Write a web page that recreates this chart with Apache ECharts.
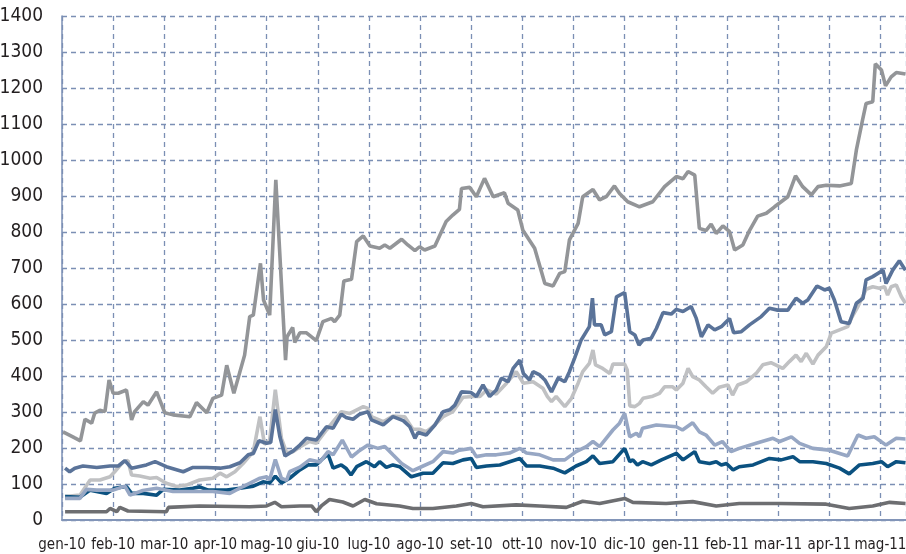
<!DOCTYPE html>
<html>
<head>
<meta charset="utf-8">
<script src="https://cdn.jsdelivr.net/npm/echarts@6/dist/echarts.min.js"></script>
<style>
  html, body { margin: 0; padding: 0; background: #fff; }
  #chart { width: 906px; height: 554px; }
</style>
</head>
<body>
<div id="chart"></div>
<script>
// x = months since gen-10 (0 = gen-10, 1 = feb-10, ...)
const monthLabels = ['gen-10', 'feb-10', 'mar-10', 'apr-10', 'mag-10', 'giu-10', 'lug-10', 'ago-10',
  'set-10', 'ott-10', 'nov-10', 'dic-10', 'gen-11', 'feb-11', 'mar-11', 'apr-11', 'mag-11'];

const yTicks = { min: 0, max: 1400, step: 100 };

// grigio medio (serie più alta)
const serieGrigio = [
  [0.02, 245], [0.25, 228], [0.36, 220], [0.45, 280], [0.58, 269], [0.64, 297], [0.74, 305], [0.84, 301],
  [0.92, 389], [1.00, 352], [1.10, 352], [1.26, 361], [1.36, 278], [1.42, 301], [1.59, 329], [1.68, 319],
  [1.85, 356], [2.01, 298], [2.17, 292], [2.50, 287], [2.63, 326], [2.83, 298], [2.95, 338], [3.12, 347],
  [3.22, 430], [3.36, 352], [3.57, 458], [3.67, 565], [3.74, 569], [3.88, 713], [3.94, 611], [4.06, 569],
  [4.18, 945], [4.37, 444], [4.40, 509], [4.51, 535], [4.55, 493], [4.65, 520], [4.78, 520], [4.97, 498],
  [5.10, 551], [5.27, 560], [5.33, 551], [5.43, 569], [5.51, 664], [5.66, 669], [5.76, 773], [5.89, 789],
  [6.02, 761], [6.21, 755], [6.31, 764], [6.41, 755], [6.64, 780], [6.76, 764], [6.90, 748], [6.99, 759],
  [7.09, 750], [7.29, 761], [7.51, 829], [7.64, 847], [7.77, 863], [7.81, 921], [7.97, 924], [8.10, 898],
  [8.26, 949], [8.43, 898], [8.65, 909], [8.72, 880], [8.91, 861], [9.01, 805], [9.24, 755], [9.44, 657],
  [9.60, 650], [9.73, 685], [9.83, 690], [9.92, 778], [10.09, 824], [10.18, 898], [10.38, 918], [10.51, 889],
  [10.64, 898], [10.80, 928], [10.90, 907], [11.06, 884], [11.29, 870], [11.55, 884], [11.78, 926], [12.01, 954],
  [12.14, 948], [12.24, 968], [12.37, 958], [12.46, 810], [12.59, 804], [12.69, 822], [12.79, 796], [12.92, 817],
  [13.05, 801], [13.15, 750], [13.31, 764], [13.44, 804], [13.60, 844], [13.77, 852], [13.93, 870], [14.19, 898],
  [14.34, 956], [14.48, 926], [14.65, 903], [14.78, 926], [14.94, 930], [15.20, 928], [15.43, 935], [15.53, 1028],
  [15.65, 1111], [15.72, 1157], [15.85, 1162], [15.90, 1267], [16.02, 1250], [16.10, 1206], [16.21, 1231],
  [16.31, 1243], [16.49, 1239]
];

// blu acciaio
const serieBluAcciaio = [
  [0.06, 144], [0.15, 134], [0.25, 144], [0.41, 150], [0.68, 146], [0.94, 150], [1.10, 150], [1.23, 165],
  [1.36, 144], [1.65, 153], [1.82, 162], [2.04, 148], [2.37, 134], [2.56, 146], [2.83, 146], [3.09, 144],
  [3.28, 148], [3.48, 159], [3.64, 181], [3.74, 185], [3.85, 220], [4.00, 213], [4.08, 215], [4.17, 307],
  [4.26, 231], [4.36, 178], [4.52, 192], [4.65, 208], [4.78, 227], [4.97, 222], [5.17, 259], [5.30, 255],
  [5.46, 294], [5.55, 285], [5.69, 280], [5.82, 294], [5.98, 301], [6.05, 278], [6.28, 264], [6.47, 287],
  [6.67, 276], [6.80, 259], [6.90, 227], [6.96, 243], [7.12, 236], [7.29, 264], [7.45, 301], [7.58, 306],
  [7.68, 319], [7.81, 356], [8.00, 354], [8.10, 343], [8.23, 375], [8.36, 343], [8.49, 361], [8.59, 394],
  [8.72, 384], [8.82, 421], [8.95, 444], [9.02, 407], [9.14, 389], [9.21, 412], [9.34, 403], [9.44, 389],
  [9.57, 356], [9.70, 394], [9.83, 384], [9.92, 412], [10.02, 449], [10.15, 500], [10.31, 537], [10.37, 616],
  [10.41, 542], [10.54, 542], [10.61, 514], [10.74, 523], [10.84, 620], [11.00, 632], [11.10, 523], [11.20, 514],
  [11.28, 486], [11.36, 500], [11.52, 505], [11.62, 532], [11.75, 576], [11.91, 572], [12.01, 585], [12.14, 579],
  [12.30, 593], [12.40, 560], [12.50, 509], [12.63, 542], [12.76, 528], [12.89, 537], [13.05, 560], [13.13, 520],
  [13.28, 523], [13.44, 542], [13.67, 565], [13.83, 588], [13.99, 583], [14.19, 583], [14.35, 616], [14.48, 602],
  [14.58, 611], [14.76, 650], [14.91, 639], [15.00, 644], [15.10, 611], [15.23, 551], [15.39, 546], [15.53, 602],
  [15.66, 616], [15.72, 667], [15.85, 676], [16.05, 694], [16.11, 657], [16.24, 694], [16.37, 720], [16.49, 694]
];

// grigio chiaro
const serieGrigioChiaro = [
  [0.06, 65], [0.35, 69], [0.55, 111], [0.74, 111], [0.94, 120], [1.03, 134], [1.20, 162], [1.29, 165],
  [1.36, 125], [1.52, 122], [1.72, 116], [1.85, 118], [2.04, 102], [2.24, 93], [2.43, 97], [2.69, 111],
  [2.95, 116], [3.09, 130], [3.22, 120], [3.38, 134], [3.54, 157], [3.74, 190], [3.87, 287], [3.96, 210],
  [4.06, 222], [4.17, 362], [4.29, 227], [4.39, 187], [4.52, 190], [4.65, 203], [4.84, 218], [4.97, 213],
  [5.17, 250], [5.46, 301], [5.63, 296], [5.89, 315], [5.98, 310], [6.05, 287], [6.28, 273], [6.47, 289],
  [6.70, 287], [6.86, 252], [6.99, 252], [7.12, 245], [7.25, 259], [7.45, 287], [7.64, 301], [7.84, 341],
  [8.03, 343], [8.17, 343], [8.30, 361], [8.49, 350], [8.69, 380], [8.88, 412], [9.02, 380], [9.21, 384],
  [9.40, 366], [9.49, 343], [9.57, 329], [9.66, 343], [9.83, 315], [9.96, 338], [10.09, 380], [10.18, 412],
  [10.31, 435], [10.38, 472], [10.43, 431], [10.57, 421], [10.71, 407], [10.77, 433], [11.00, 433], [11.05, 417],
  [11.10, 317], [11.20, 315], [11.29, 324], [11.36, 338], [11.55, 344], [11.68, 352], [11.78, 370], [11.94, 370],
  [12.01, 361], [12.14, 380], [12.24, 421], [12.33, 398], [12.46, 389], [12.59, 370], [12.72, 352], [12.85, 369],
  [13.02, 375], [13.11, 347], [13.21, 375], [13.38, 384], [13.57, 407], [13.70, 431], [13.86, 437], [14.09, 421],
  [14.22, 440], [14.35, 458], [14.45, 440], [14.55, 463], [14.68, 433], [14.78, 458], [14.94, 481], [15.04, 519],
  [15.20, 528], [15.36, 537], [15.43, 560], [15.56, 593], [15.72, 641], [15.85, 648], [15.98, 644], [16.08, 648],
  [16.14, 625], [16.21, 648], [16.31, 653], [16.41, 620], [16.49, 602]
];

// azzurro
const serieAzzurro = [
  [0.06, 60], [0.35, 60], [0.48, 85], [0.68, 83], [1.00, 83], [1.23, 94], [1.33, 69], [1.58, 82],
  [1.85, 88], [2.17, 79], [2.69, 79], [2.95, 79], [3.28, 74], [3.54, 93], [3.87, 116], [4.00, 120],
  [4.06, 112], [4.17, 168], [4.29, 116], [4.39, 110], [4.45, 134], [4.65, 147], [4.84, 167], [5.04, 161],
  [5.20, 190], [5.30, 181], [5.48, 222], [5.66, 175], [5.79, 190], [5.98, 208], [6.18, 199], [6.31, 204],
  [6.47, 181], [6.64, 157], [6.86, 137], [7.06, 150], [7.25, 162], [7.45, 190], [7.64, 186], [7.77, 194],
  [8.00, 199], [8.10, 176], [8.30, 181], [8.49, 181], [8.75, 186], [8.95, 199], [9.08, 186], [9.34, 181],
  [9.60, 167], [9.83, 167], [10.05, 190], [10.25, 204], [10.38, 218], [10.51, 204], [10.77, 250], [10.90, 269],
  [11.00, 296], [11.10, 231], [11.23, 241], [11.29, 231], [11.35, 255], [11.62, 264], [12.01, 259], [12.13, 250],
  [12.33, 270], [12.46, 245], [12.59, 236], [12.76, 208], [12.91, 218], [13.08, 190], [13.24, 199], [13.57, 213],
  [13.90, 227], [14.03, 218], [14.26, 231], [14.42, 213], [14.68, 199], [15.00, 194], [15.36, 178], [15.56, 236],
  [15.72, 227], [15.88, 231], [16.11, 208], [16.31, 227], [16.49, 225]
];

// blu scuro
const serieBluScuro = [
  [0.06, 65], [0.35, 63], [0.55, 83], [0.87, 74], [1.03, 88], [1.26, 93], [1.36, 74], [1.59, 74],
  [1.85, 69], [1.98, 85], [2.30, 83], [2.56, 88], [2.69, 92], [2.86, 83], [3.22, 83], [3.48, 88],
  [3.74, 94], [3.93, 106], [4.06, 103], [4.17, 122], [4.29, 103], [4.45, 116], [4.65, 139], [4.81, 153],
  [4.97, 153], [5.07, 167], [5.20, 183], [5.30, 144], [5.46, 153], [5.55, 144], [5.65, 125], [5.76, 148],
  [5.95, 162], [6.11, 148], [6.21, 162], [6.34, 146], [6.47, 153], [6.60, 148], [6.83, 120], [7.06, 130],
  [7.25, 130], [7.45, 159], [7.64, 157], [7.84, 167], [8.00, 171], [8.10, 146], [8.30, 150], [8.56, 153],
  [8.75, 162], [8.95, 171], [9.08, 150], [9.34, 150], [9.60, 144], [9.83, 131], [10.05, 150], [10.25, 162],
  [10.38, 178], [10.51, 157], [10.77, 162], [11.00, 199], [11.10, 162], [11.16, 167], [11.25, 153], [11.35, 162],
  [11.52, 153], [11.72, 167], [12.01, 185], [12.14, 167], [12.37, 190], [12.46, 162], [12.66, 157], [12.79, 162],
  [12.89, 153], [12.99, 157], [13.12, 139], [13.24, 148], [13.51, 153], [13.83, 171], [14.06, 167], [14.29, 176],
  [14.42, 162], [14.68, 162], [14.94, 157], [15.20, 144], [15.39, 128], [15.59, 153], [15.85, 157], [16.02, 162],
  [16.14, 148], [16.31, 162], [16.49, 159]
];

// grigio scuro (serie più bassa)
const serieGrigioScuro = [
  [0.06, 23], [0.87, 23], [0.94, 32], [1.07, 23], [1.13, 35], [1.29, 25], [2.04, 23], [2.08, 35],
  [2.69, 39], [3.67, 37], [4.00, 39], [4.16, 49], [4.29, 37], [4.65, 39], [4.88, 39], [4.97, 23],
  [5.07, 39], [5.23, 57], [5.49, 50], [5.69, 39], [5.92, 57], [6.15, 45], [6.60, 39], [6.86, 32],
  [7.25, 32], [7.71, 39], [8.00, 46], [8.23, 37], [8.88, 42], [9.34, 39], [9.86, 35], [10.18, 52],
  [10.51, 46], [11.00, 60], [11.16, 49], [11.81, 46], [12.33, 51], [12.79, 39], [13.24, 46], [14.03, 46],
  [14.94, 44], [15.39, 32], [15.85, 39], [16.18, 49], [16.49, 46]
];

const font = "'DejaVu Sans Condensed', 'DejaVu Sans', sans-serif";
const gridColor = '#7b8fb4';

function linea(data, color) {
  return {
    type: 'line',
    data: data,
    symbol: 'none',
    animation: false,
    lineStyle: { color: color, width: 3.6 }
  };
}

const chart = echarts.init(document.getElementById('chart'));

chart.setOption({
  animation: false,
  grid: {
    left: 62, right: 0, top: 16, bottom: 34,
    containLabel: false,
    outerBoundsMode: 'none'
  },
  xAxis: [{
    type: 'value',
    min: 0,
    max: 16.5,
    interval: 1,
    axisLine: { show: true, onZero: false, lineStyle: { color: '#9aaac6', width: 2 } },
    axisTick: { show: false },
    splitLine: { show: true, lineStyle: { color: gridColor, type: [5, 4], width: 1.3 } },
    axisLabel: {
      fontFamily: font,
      fontWeight: 'condensed',
      fontSize: 15,
      color: '#231f20',
      margin: 18,
      showMinLabel: true,
      showMaxLabel: false,
      alignMinLabel: 'center',
      hideOverlap: false,
      formatter: function (v) {
        return Number.isInteger(v) && monthLabels[v] ? monthLabels[v] : '';
      }
    }
  }, {
    // bordo superiore
    type: 'value',
    position: 'top',
    min: 0,
    max: 16.5,
    axisLine: { show: true, lineStyle: { color: gridColor, width: 1.5 } },
    axisTick: { show: false },
    axisLabel: { show: false },
    splitLine: { show: false }
  }],
  yAxis: {
    type: 'value',
    min: yTicks.min,
    max: yTicks.max,
    interval: yTicks.step,
    axisLine: { show: true, lineStyle: { color: gridColor, width: 1.5 } },
    axisTick: { show: false },
    splitLine: { show: true, lineStyle: { color: gridColor, type: [5, 4], width: 1.3 } },
    axisLabel: {
      fontFamily: font,
      fontWeight: 'condensed',
      fontSize: 19,
      color: '#231f20',
      margin: 19,
      formatter: function (v) { return String(v); }
    }
  },
  series: [
    linea(serieGrigio, '#939598'),
    linea(serieGrigioChiaro, '#c0c1c3'),
    linea(serieBluAcciaio, '#5a7399'),
    linea(serieBluScuro, '#0b5180'),
    linea(serieAzzurro, '#97a7c4'),
    linea(serieGrigioScuro, '#6d6e71')
  ]
});
</script>
</body>
</html>
